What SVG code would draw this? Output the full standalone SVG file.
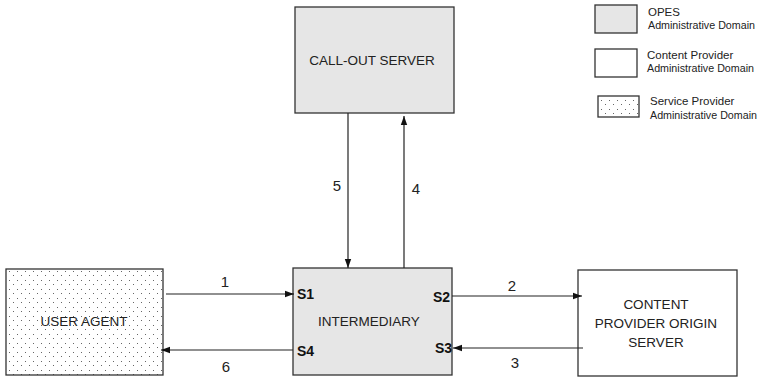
<svg xmlns="http://www.w3.org/2000/svg" width="764" height="377" viewBox="0 0 764 377">
<style>
.box{stroke:#333;stroke-width:1.3}
.opes{fill:#e6e6e6}
.cp{fill:#ffffff}
.sp{fill:url(#dots)}
.t{font-family:"Liberation Sans",Arial,sans-serif;font-size:13.5px;fill:#222;text-anchor:middle}
.lg{font-family:"Liberation Sans",Arial,sans-serif;font-size:11.5px;fill:#222}
.s{font-family:"Liberation Sans",Arial,sans-serif;font-size:14px;font-weight:bold;fill:#111}
.n{font-family:"Liberation Sans",Arial,sans-serif;font-size:15px;fill:#222;text-anchor:middle}
.c{stroke:#222;stroke-width:1.2;fill:none;marker-end:url(#ah)}
</style>
<defs>
<pattern id="dots" width="8" height="9" patternUnits="userSpaceOnUse">
<rect width="8" height="9" fill="#fff"/>
<rect x="1" y="1" width="1" height="1" fill="#666"/>
<rect x="5" y="5" width="1" height="1" fill="#666"/>
</pattern>
<marker id="ah" markerWidth="10" markerHeight="8" refX="9" refY="4" orient="auto" markerUnits="userSpaceOnUse">
<path d="M0,0.8 L9,4 L0,7.2 Z" fill="#111"/>
</marker>
</defs>
<rect width="764" height="377" fill="#fff"/>

<g id="legend">
<rect class="box opes" x="595" y="5" width="42" height="28"/>
<text class="lg" x="648" y="16">OPES</text>
<text class="lg" x="648" y="29" textLength="107" lengthAdjust="spacingAndGlyphs">Administrative Domain</text>
<rect class="box cp" x="595" y="49" width="42" height="28"/>
<text class="lg" x="647" y="59">Content Provider</text>
<text class="lg" x="647" y="72" textLength="107" lengthAdjust="spacingAndGlyphs">Administrative Domain</text>
<rect class="box sp" x="598" y="96" width="41" height="21"/>
<text class="lg" x="650" y="105">Service Provider</text>
<text class="lg" x="650" y="119" textLength="107" lengthAdjust="spacingAndGlyphs">Administrative Domain</text>
</g>

<g id="callout">
<rect class="box opes" x="295" y="7" width="159" height="106"/>
<text class="t" x="372" y="65">CALL-OUT SERVER</text>
</g>

<g id="intermediary">
<rect class="box opes" x="293" y="268" width="159" height="107"/>
<text class="t" x="369" y="326">INTERMEDIARY</text>
<text class="s" x="297" y="299">S1</text>
<text class="s" x="450" y="302" text-anchor="end">S2</text>
<text class="s" x="452" y="353" text-anchor="end">S3</text>
<text class="s" x="297" y="356">S4</text>
</g>

<g id="useragent">
<rect class="box sp" x="6" y="269" width="157" height="106"/>
<text class="t" x="84" y="326">USER AGENT</text>
</g>

<g id="contentprovider">
<rect class="box cp" x="578" y="270" width="159" height="106"/>
<text class="t" x="656" y="309">CONTENT</text>
<text class="t" x="656" y="328">PROVIDER ORIGIN</text>
<text class="t" x="656" y="347">SERVER</text>
</g>

<g id="connectors">
<line class="c" x1="166" y1="294" x2="294" y2="294"/>
<text class="n" x="225" y="287">1</text>
<line class="c" x1="452" y1="296" x2="582" y2="296"/>
<text class="n" x="512" y="291">2</text>
<line class="c" x1="583" y1="348" x2="453" y2="348"/>
<text class="n" x="515" y="368">3</text>
<line class="c" x1="404" y1="268" x2="404" y2="116"/>
<text class="n" x="416" y="194">4</text>
<line class="c" x1="348" y1="113" x2="348" y2="268"/>
<text class="n" x="337" y="191">5</text>
<line class="c" x1="293" y1="350" x2="161" y2="350"/>
<text class="n" x="226" y="372">6</text>
</g>
</svg>
